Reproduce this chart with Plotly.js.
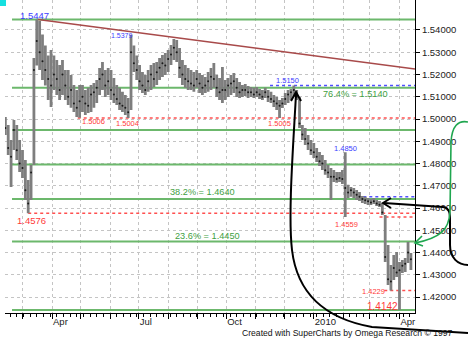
<!DOCTYPE html>
<html><head><meta charset="utf-8">
<script src="https://cdn.plot.ly/plotly-3.0.1.min.js"></script>
<style>html,body{margin:0;padding:0;background:#fff;}#chart{width:468px;height:354px;}</style>
</head><body><div id="chart"></div>
<script>
// ---- data ----
const startDate = '2009-02-11';
const stepDays = 3;
const highs = [1.5009,1.4973,1.4906,1.4995,1.4973,1.4906,1.4861,1.4816,1.4726,1.4793,
1.5274,1.5447,1.5440,1.5380,1.5330,1.5285,1.5310,1.5285,1.5265,1.5243,
1.5265,1.5220,1.5220,1.5198,1.5153,1.5130,1.5153,1.5153,1.5130,1.5140,
1.5153,1.5162,1.5175,1.5229,1.5256,1.5220,1.5229,1.5220,1.5184,1.5153,
1.5140,1.5122,1.5108,1.5094,1.5379,1.5330,1.5285,1.5243,1.5211,1.5198,
1.5220,1.5243,1.5252,1.5256,1.5274,1.5288,1.5297,1.5310,1.5333,1.5359,
1.5355,1.5319,1.5265,1.5243,1.5229,1.5220,1.5211,1.5220,1.5207,1.5198,
1.5189,1.5211,1.5229,1.5252,1.5198,1.5184,1.5234,1.5175,1.5184,1.5198,
1.5207,1.5184,1.5166,1.5153,1.5157,1.5148,1.5144,1.5140,1.5144,1.5135,
1.5130,1.5140,1.5130,1.5122,1.5108,1.5099,1.5085,1.5094,1.5117,1.5130,
1.5135,1.5150,1.5130,1.5099,1.4973,1.4959,1.4928,1.4906,1.4892,1.4870,
1.4852,1.4838,1.4816,1.4793,1.4780,1.4771,1.4762,1.4762,1.4771,1.4850,
1.4704,1.4694,1.4690,1.4681,1.4672,1.4654,1.4650,1.4645,1.4641,1.4645,
1.4636,1.4632,1.4623,1.4568,1.4434,1.4344,1.4389,1.4402,1.4357,1.4366,
1.4375,1.4447,1.4398];
const lows = [1.4928,1.4838,1.4694,1.4861,1.4816,1.4762,1.4735,1.4636,1.4576,1.4636,
1.4793,1.5240,1.5220,1.5175,1.5150,1.5085,1.5054,1.5130,1.5108,1.5085,
1.5108,1.5085,1.5063,1.5050,1.5032,1.5009,1.5006,1.5032,1.5018,1.5027,
1.5032,1.5050,1.5072,1.5108,1.5130,1.5099,1.5108,1.5085,1.5072,1.5063,
1.5040,1.5032,1.5018,1.5004,1.5040,1.5211,1.5175,1.5130,1.5117,1.5108,
1.5122,1.5130,1.5144,1.5153,1.5175,1.5189,1.5198,1.5211,1.5243,1.5265,
1.5256,1.5184,1.5153,1.5140,1.5130,1.5130,1.5122,1.5140,1.5117,1.5108,
1.5117,1.5122,1.5130,1.5140,1.5099,1.5085,1.5072,1.5085,1.5099,1.5108,
1.5117,1.5099,1.5094,1.5099,1.5103,1.5094,1.5099,1.5094,1.5099,1.5090,
1.5085,1.5094,1.5076,1.5072,1.5054,1.5040,1.5005,1.5049,1.5063,1.5072,
1.5085,1.5099,1.5085,1.4959,1.4906,1.4883,1.4861,1.4838,1.4825,1.4807,
1.4789,1.4771,1.4749,1.4735,1.4636,1.4717,1.4713,1.4717,1.4708,1.4559,
1.4645,1.4650,1.4645,1.4636,1.4632,1.4623,1.4618,1.4614,1.4614,1.4618,
1.4609,1.4605,1.4569,1.4357,1.4254,1.4229,1.4276,1.4290,1.4142,1.4308,
1.4312,1.4353,1.4321];
const closes = [1.4959,1.4870,1.4830,1.4950,1.4860,1.4800,1.4780,1.4680,1.4620,1.4760,
1.5220,1.5350,1.5300,1.5260,1.5220,1.5180,1.5150,1.5200,1.5180,1.5130,
1.5200,1.5150,1.5100,1.5130,1.5070,1.5050,1.5080,1.5100,1.5070,1.5060,
1.5110,1.5120,1.5140,1.5180,1.5200,1.5150,1.5170,1.5130,1.5110,1.5090,
1.5070,1.5060,1.5050,1.5030,1.5300,1.5250,1.5220,1.5170,1.5150,1.5130,
1.5170,1.5200,1.5180,1.5210,1.5230,1.5250,1.5240,1.5270,1.5290,1.5320,
1.5300,1.5230,1.5200,1.5180,1.5170,1.5160,1.5150,1.5180,1.5160,1.5140,
1.5150,1.5170,1.5190,1.5180,1.5140,1.5120,1.5130,1.5130,1.5150,1.5160,
1.5170,1.5140,1.5120,1.5130,1.5130,1.5120,1.5120,1.5110,1.5120,1.5110,
1.5100,1.5120,1.5100,1.5090,1.5080,1.5070,1.5060,1.5070,1.5090,1.5110,
1.5120,1.5130,1.5100,1.4980,1.4930,1.4910,1.4890,1.4860,1.4850,1.4830,
1.4810,1.4800,1.4770,1.4760,1.4740,1.4740,1.4730,1.4735,1.4730,1.4690,
1.4670,1.4680,1.4670,1.4660,1.4650,1.4640,1.4635,1.4630,1.4625,1.4630,
1.4620,1.4615,1.4580,1.4380,1.4280,1.4270,1.4330,1.4310,1.4320,1.4340,
1.4350,1.4400,1.4370];

const monthTicks = ['2009-03-01','2009-04-01','2009-05-01','2009-06-01','2009-07-01','2009-08-01','2009-09-01',
  '2009-10-01','2009-11-01','2009-12-01','2010-01-01','2010-02-01','2010-03-01','2010-04-01'];
const monthLabels = ['','Apr','','','Jul','','','Oct','','','2010','','','Apr'];
const priceTicks = [1.42,1.43,1.44,1.45,1.46,1.47,1.48,1.49,1.50,1.51,1.52,1.53,1.54];

const fibLevels = [1.5447,1.5140,1.4950,1.4795,1.4640,1.4450,1.4142];
const redLevels = [1.5005,1.4576,1.4559,1.4229];
const redStarts = ['2009-04-28','2009-03-07','2010-03-11','2010-03-16'];
const blueLevels = [1.5150,1.4650];
const blueStarts = ['2009-11-16','2010-02-22'];
const trendStart = ['2009-03-17 07:00', 1.5447];
const trendEndPrice = 1.5225;

// ---- layout helpers ----
const xStart = '2009-02-10 15:00', xEnd = '2010-04-17 07:00';
const yRange = [1.41281, 1.55348];
const PL = 5, PR = 415, PT = 0, PB = 313;
const fx = px => (px - PL) / (PR - PL);
const fy = py => (PB - py) / (PB - PT);
const pt = (px, py) => fx(px).toFixed(4) + ',' + fy(py).toFixed(4);
const FONT = 'Liberation Sans, Arial, sans-serif';

const dates = highs.map((_, i) => new Date(Date.parse(startDate + 'T00:00:00Z') + i * stepDays * 864e5).toISOString().slice(0, 10));

const traces = [
  {type:'ohlc', x:dates, open:closes, high:highs, low:lows, close:closes, tickwidth:0.2,
   increasing:{line:{color:'#7e7e7e', width:2.8}}, decreasing:{line:{color:'#7e7e7e', width:2.8}},
   hoverinfo:'skip', showlegend:false},
  {type:'scatter', mode:'markers', x:dates, y:closes, marker:{size:2, color:'#1a1a1a'}, hoverinfo:'skip', showlegend:false}
];

const shapes = [];
fibLevels.forEach(v => shapes.push({type:'line', layer:'between', xref:'x', yref:'y', x0:'2009-02-18', x1:xEnd, y0:v, y1:v,
  line:{color:'#6cb86c', width:2}}));
redLevels.forEach((v, k) => shapes.push({type:'line', layer:'between', xref:'x', yref:'y', x0:redStarts[k], x1:xEnd, y0:v, y1:v,
  line:{color:'#ff5050', width:1.5, dash:'dot'}}));
blueLevels.forEach((v, k) => shapes.push({type:'line', layer:'between', xref:'x', yref:'y', x0:blueStarts[k], x1:xEnd, y0:v, y1:v,
  line:{color:'#5050ff', width:1.5, dash:'dot'}}));
shapes.push({type:'line', layer:'between', xref:'x', yref:'y', x0:trendStart[0], y0:trendStart[1], x1:xEnd, y1:trendEndPrice,
  line:{color:'#a84a4a', width:1.5}});
// hand-drawn arrows (paper coordinates)
shapes.push({type:'path', xref:'paper', yref:'paper', line:{color:'#000', width:2},
  path:'M' + pt(296,94) + ' C' + pt(293,150) + ' ' + pt(288,215) + ' ' + pt(292,250) +
       ' C' + pt(297,292) + ' ' + pt(322,318) + ' ' + pt(372,327) + ' L' + pt(468,333)});
shapes.push({type:'path', xref:'paper', yref:'paper', line:{color:'#000', width:2},
  path:'M' + pt(291,101) + ' L' + pt(296,92) + ' L' + pt(301,101)});
shapes.push({type:'path', xref:'paper', yref:'paper', line:{color:'#000', width:2},
  path:'M' + pt(384,203) + ' L' + pt(443,207) + ' C' + pt(451,208) + ' ' + pt(450,216) + ' ' + pt(450,226) +
       ' L' + pt(450,245) + ' C' + pt(450,258) + ' ' + pt(458,265) + ' ' + pt(468,265)});
shapes.push({type:'path', xref:'paper', yref:'paper', line:{color:'#000', width:2},
  path:'M' + pt(391,198) + ' L' + pt(383,203) + ' L' + pt(391,208)});
shapes.push({type:'path', xref:'paper', yref:'paper', line:{color:'#1fa64f', width:1.6},
  path:'M' + pt(468,122) + ' C' + pt(458,120) + ' ' + pt(452,126) + ' ' + pt(451,142) +
       ' L' + pt(450,212) + ' C' + pt(449,230) + ' ' + pt(440,238) + ' ' + pt(415,243)});
shapes.push({type:'path', xref:'paper', yref:'paper', line:{color:'#1fa64f', width:1.6},
  path:'M' + pt(422,236) + ' L' + pt(415,243) + ' L' + pt(423,246)});
shapes.push({type:'rect', xref:'paper', yref:'paper', x0:fx(0), x1:fx(6), y0:fy(0), y1:fy(6),
  line:{width:0}, fillcolor:'#16e0e0'});

const BLUE = '#3d3dff', RED = '#ff3a3a', GREEN = '#3f9f3f';
const lab = (text, px, py, color, size, xanchor) => ({text, x:fx(px), y:fy(py), xref:'paper', yref:'paper',
  xanchor:xanchor || 'center', yanchor:'middle', showarrow:false, font:{family:FONT, size, color}});
const annotations = [
  lab('1.5447', 34, 15.5, BLUE, 9.5),
  lab('1.5379', 122.5, 35.5, BLUE, 7),
  lab('1.5006', 93.5, 122, RED, 7.5),
  lab('1.5004', 127.5, 123, RED, 7.5),
  lab('1.5150', 287, 80.5, BLUE, 7.5),
  lab('76.4% = 1.5140', 355, 94, GREEN, 9.2),
  lab('1.5005', 279, 123, RED, 7.5),
  lab('1.4850', 345, 148.5, BLUE, 7.5),
  lab('38.2% = 1.4640', 202, 192.5, GREEN, 9.2),
  lab('1.4576', 31, 220, RED, 9.5),
  lab('1.4559', 346, 224, RED, 7.5),
  lab('23.6% = 1.4450', 207, 235.5, GREEN, 9.2),
  lab('1.4229', 373.5, 291, RED, 7.5),
  lab('1.4142', 382.5, 306, RED, 10),
  lab('Created with SuperCharts by Omega Research © 1997', 455, 332.5, '#111', 8.6, 'right')
];

const layout = {
  width:468, height:354, margin:{l:PL, r:468-PR, t:PT, b:354-PB},
  paper_bgcolor:'#fff', plot_bgcolor:'#fff', showlegend:false, hovermode:false,
  xaxis:{type:'date', range:[xStart, xEnd], tickvals:monthTicks, ticktext:monthLabels,
    ticks:'outside', ticklen:5, tickcolor:'#000', tickwidth:1, showline:true, linecolor:'#000', linewidth:1,
    showgrid:true, gridcolor:'#c4c4c4', griddash:'dot', gridwidth:1, zeroline:false,
    ticklabelposition:'outside right', tickfont:{family:FONT, size:9.5, color:'#222'},
    minor:{ticks:'outside', ticklen:2.5, tickcolor:'#000', dtick:7*864e5, tick0:'2009-02-16', showgrid:false},
    rangeslider:{visible:false}, fixedrange:true},
  yaxis:{side:'right', range:yRange, tickvals:priceTicks, tickformat:'.5f', ticks:'outside', ticklen:4,
    tickcolor:'#000', showline:true, linecolor:'#000', linewidth:1, showgrid:true, gridcolor:'#c4c4c4',
    griddash:'dot', gridwidth:1, zeroline:false, tickfont:{family:FONT, size:9.5, color:'#222'}, fixedrange:true},
  shapes, annotations
};
Plotly.newPlot('chart', traces, layout, {displayModeBar:false, staticPlot:true});
</script></body></html>
